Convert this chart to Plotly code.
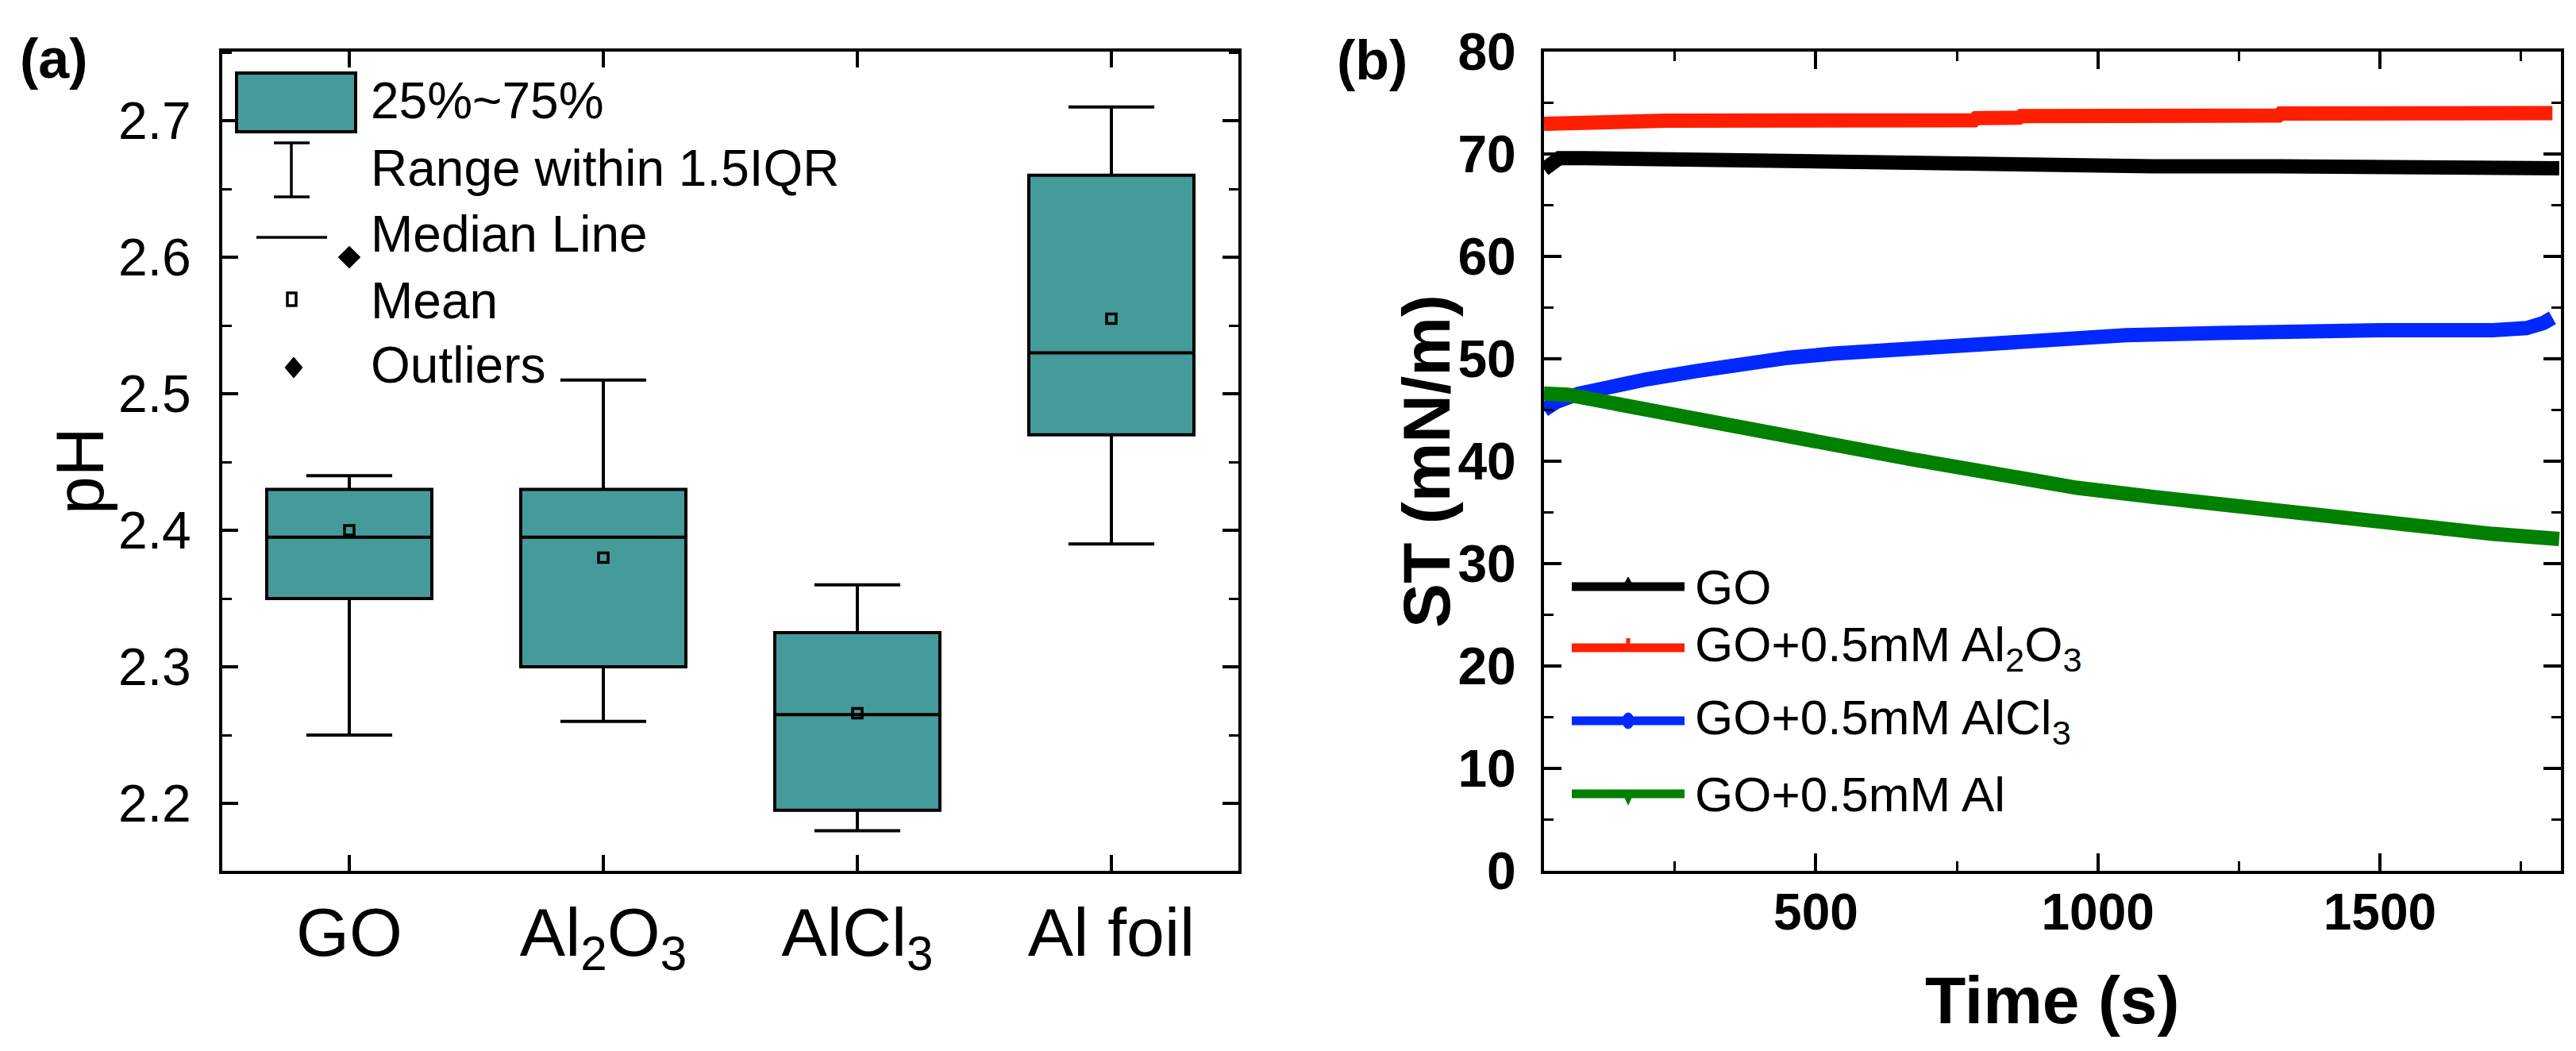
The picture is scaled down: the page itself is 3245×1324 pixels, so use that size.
import plotly.graph_objects as go

W, H = 3245, 1324

# ---------------- data: panel (a) box statistics ----------------
categories = ["GO", "Al<sub>2</sub>O<sub>3</sub>", "AlCl<sub>3</sub>", "Al foil"]
cat_pos = [0, 1, 2, 3]
q1 = [2.35, 2.30, 2.195, 2.47]
median = [2.395, 2.395, 2.265, 2.53]
q3 = [2.43, 2.43, 2.325, 2.66]
lowerfence = [2.25, 2.26, 2.18, 2.39]
upperfence = [2.44, 2.51, 2.36, 2.71]
means = [2.40, 2.38, 2.266, 2.555]
outlier_pos = [0]
outlier_val = [2.60]

# ---------------- data: panel (b) surface tension ----------------
t_go = [18, 30, 45, 90, 200, 330, 350, 500, 700, 770, 900, 1100, 1322, 1500, 1700, 1818]
st_go = [68.5, 69.2, 69.6, 69.6, 69.5, 69.5, 69.3, 69.2, 69.2, 69.0, 69.0, 68.8, 68.8, 68.7, 68.7, 68.6]

t_al2o3 = [18, 232, 236, 780, 784, 860, 864, 1320, 1324, 1806]
st_al2o3 = [72.95, 72.95, 73.25, 73.3, 73.5, 73.55, 73.7, 73.75, 73.95, 74.0]

t_alcl3 = [18, 40, 80, 127, 200, 289, 370, 451, 530, 613, 700, 775, 900, 1050, 1200, 1316, 1500, 1700, 1760, 1790, 1806]
st_alcl3 = [45.0, 45.8, 46.6, 47.2, 48.0, 48.8, 49.5, 50.1, 50.5, 50.8, 51.2, 51.5, 51.9, 52.3, 52.5, 52.7, 52.8, 52.8, 53.0, 53.5, 54.0]

t_al = [18, 60, 127, 200, 289, 370, 451, 530, 613, 669, 775, 900, 963, 1100, 1257, 1400, 1552, 1700, 1818]
st_al = [46.6, 46.5, 45.8, 45.0, 44.1, 43.3, 42.5, 41.6, 40.7, 40.2, 39.2, 38.0, 37.4, 36.5, 35.5, 34.6, 33.7, 32.9, 32.4]

series_names = ["GO", "GO+0.5mM Al<sub>2</sub>O<sub>3</sub>", "GO+0.5mM AlCl<sub>3</sub>", "GO+0.5mM Al"]
series_colors = ["#000000", "#FF1E00", "#0028FF", "#008000"]

TEAL = "#459B9A"
FONT = "Liberation Sans, Arial, sans-serif"


def px(x):
    return x / W


def py(y):
    return 1 - y / H


fig = go.Figure()

# ---------------- panel (a) ----------------
fig.add_trace(go.Box(
    x=cat_pos, q1=q1, median=median, q3=q3,
    lowerfence=lowerfence, upperfence=upperfence,
    width=0.65, whiskerwidth=0.52, boxpoints=False,
    fillcolor=TEAL, line=dict(color="black", width=4),
    xaxis="x", yaxis="y", showlegend=False, hoverinfo="skip",
))
fig.add_trace(go.Scatter(
    x=cat_pos, y=means, mode="markers", xaxis="x", yaxis="y",
    marker=dict(symbol="square-open", size=12, color="black", line=dict(width=3.5)),
    showlegend=False, hoverinfo="skip",
))
fig.add_trace(go.Scatter(
    x=outlier_pos, y=outlier_val, mode="markers", xaxis="x", yaxis="y",
    marker=dict(symbol="diamond", size=22, color="black"),
    showlegend=False, hoverinfo="skip",
))

# ---------------- panel (b) ----------------
for t, v, c in zip([t_go, t_al2o3, t_alcl3, t_al], [st_go, st_al2o3, st_alcl3, st_al], series_colors):
    fig.add_trace(go.Scatter(
        x=t, y=v, mode="lines", xaxis="x2", yaxis="y2",
        line=dict(color=c, width=18), showlegend=False, hoverinfo="skip",
    ))

ydom = [py(1089), py(57)]
axis_common = dict(
    showline=True, linecolor="black", linewidth=4, mirror="ticks",
    ticks="inside", tickcolor="black", tickwidth=3.5,
    showgrid=False, zeroline=False, automargin=False,
)

fig.update_layout(
    width=W, height=H, autosize=False,
    margin=dict(l=0, r=0, t=0, b=0, pad=0),
    paper_bgcolor="white", plot_bgcolor="white",
    font=dict(family=FONT, color="black"),
    xaxis=dict(
        domain=[px(272), px(1552)], range=[-0.5, 3.5],
        tickvals=cat_pos, ticktext=categories, ticklen=20,
        tickfont=dict(size=86, family=FONT), ticklabelstandoff=0,
        anchor="y", **axis_common,
    ),
    yaxis=dict(
        domain=ydom, range=[2.1506, 2.7506], tick0=2.2, dtick=0.1,
        tickformat=".1f", ticklen=20,
        tickfont=dict(size=66, family=FONT), ticklabelstandoff=22,
        minor=dict(dtick=0.05, tick0=2.2, ticks="inside", ticklen=12,
                   tickwidth=3, tickcolor="black", showgrid=False),
        anchor="x", **axis_common,
    ),
    xaxis2=dict(
        domain=[px(1937), px(3218)], range=[18, 1821], tick0=0, dtick=500,
        ticklen=22, tickfont=dict(size=64, family=FONT, weight="bold"),
        ticklabelstandoff=-7,
        minor=dict(dtick=250, tick0=0, ticks="inside", ticklen=12,
                   tickwidth=3, tickcolor="black", showgrid=False),
        anchor="y2", **axis_common,
    ),
    yaxis2=dict(
        domain=ydom, range=[0, 80], tick0=0, dtick=10, ticklen=22,
        tickfont=dict(size=66, family=FONT, weight="bold"), ticklabelstandoff=18,
        minor=dict(dtick=5, tick0=0, ticks="inside", ticklen=12,
                   tickwidth=3, tickcolor="black", showgrid=False),
        anchor="x2", **axis_common,
    ),
)

ann = []


def text(x, y, s, size, bold=False, xanchor="center", angle=0):
    ann.append(dict(
        x=px(x), y=py(y), xref="paper", yref="paper", text=s, showarrow=False,
        xanchor=xanchor, yanchor="middle", textangle=angle,
        font=dict(size=size, family=FONT, color="black", weight="bold" if bold else "normal"),
    ))


# panel labels and axis titles
text(60, 66, "(a)", 70, bold=True)
text(1720, 68, "(b)", 70, bold=True)
text(92, 585, "pH", 86, angle=-90)
text(1789, 573, "ST (mN/m)", 84, bold=True, angle=-90)
text(2577, 1252, "Time (s)", 84, bold=True)

# legend (a) texts
leg_a_text = ["25%~75%", "Range within 1.5IQR", "Median Line", "Mean", "Outliers"]
leg_a_y = [119, 204, 287, 371, 452]
for s, y in zip(leg_a_text, leg_a_y):
    text(457, y, s, 64, xanchor="left")

# legend (b) texts
leg_b_y = [731, 808, 900, 992]
for s, y in zip(series_names, leg_b_y):
    text(2125, y, s, 62, xanchor="left")

shapes = []


def line(x0, y0, x1, y1, w=3, color="black"):
    shapes.append(dict(type="line", xref="paper", yref="paper",
                       x0=px(x0), y0=py(y0), x1=px(x1), y1=py(y1),
                       line=dict(color=color, width=w)))


def path(points, color="black", fill="black", w=1):
    d = "M " + " L ".join(f"{px(a):.6f},{py(b):.6f}" for a, b in points) + " Z"
    shapes.append(dict(type="path", xref="paper", yref="paper", path=d,
                       fillcolor=fill, line=dict(color=color, width=w)))


# legend (a) keys
shapes.append(dict(type="rect", xref="paper", yref="paper",
                   x0=px(290), y0=py(158), x1=px(440), y1=py(84),
                   fillcolor=TEAL, line=dict(color="black", width=4)))
line(359, 172, 359, 240, w=3.5)
line(337, 172, 382, 172, w=3.5)
line(337, 240, 382, 240, w=3.5)
line(315, 291, 404, 291, w=3.5)
shapes.append(dict(type="rect", xref="paper", yref="paper",
                   x0=px(354), y0=py(377), x1=px(365), y1=py(361),
                   fillcolor="white", line=dict(color="black", width=3.5)))
path([(351, 455), (362, 442), (373, 455), (362, 468)])

# legend (b) keys
for y, c in zip(leg_b_y, series_colors):
    line(1972, y, 2114, y, w=11, color=c)
mx = 2043
path([(mx - 9, leg_b_y[0] + 4), (mx, leg_b_y[0] - 12), (mx + 9, leg_b_y[0] + 4)], color=series_colors[0], fill=series_colors[0])
line(mx, leg_b_y[1] - 12, mx, leg_b_y[1] + 4, w=5, color=series_colors[1])
shapes.append(dict(type="circle", xref="paper", yref="paper",
                   x0=px(mx - 7), x1=px(mx + 7), y0=py(leg_b_y[2] + 10), y1=py(leg_b_y[2] - 10),
                   fillcolor=series_colors[2], line=dict(color=series_colors[2], width=1)))
path([(mx - 8, leg_b_y[3] - 4), (mx + 8, leg_b_y[3] - 4), (mx, leg_b_y[3] + 14)], color=series_colors[3], fill=series_colors[3])

fig.update_layout(annotations=ann, shapes=shapes)

fig.write_html("out.html")
